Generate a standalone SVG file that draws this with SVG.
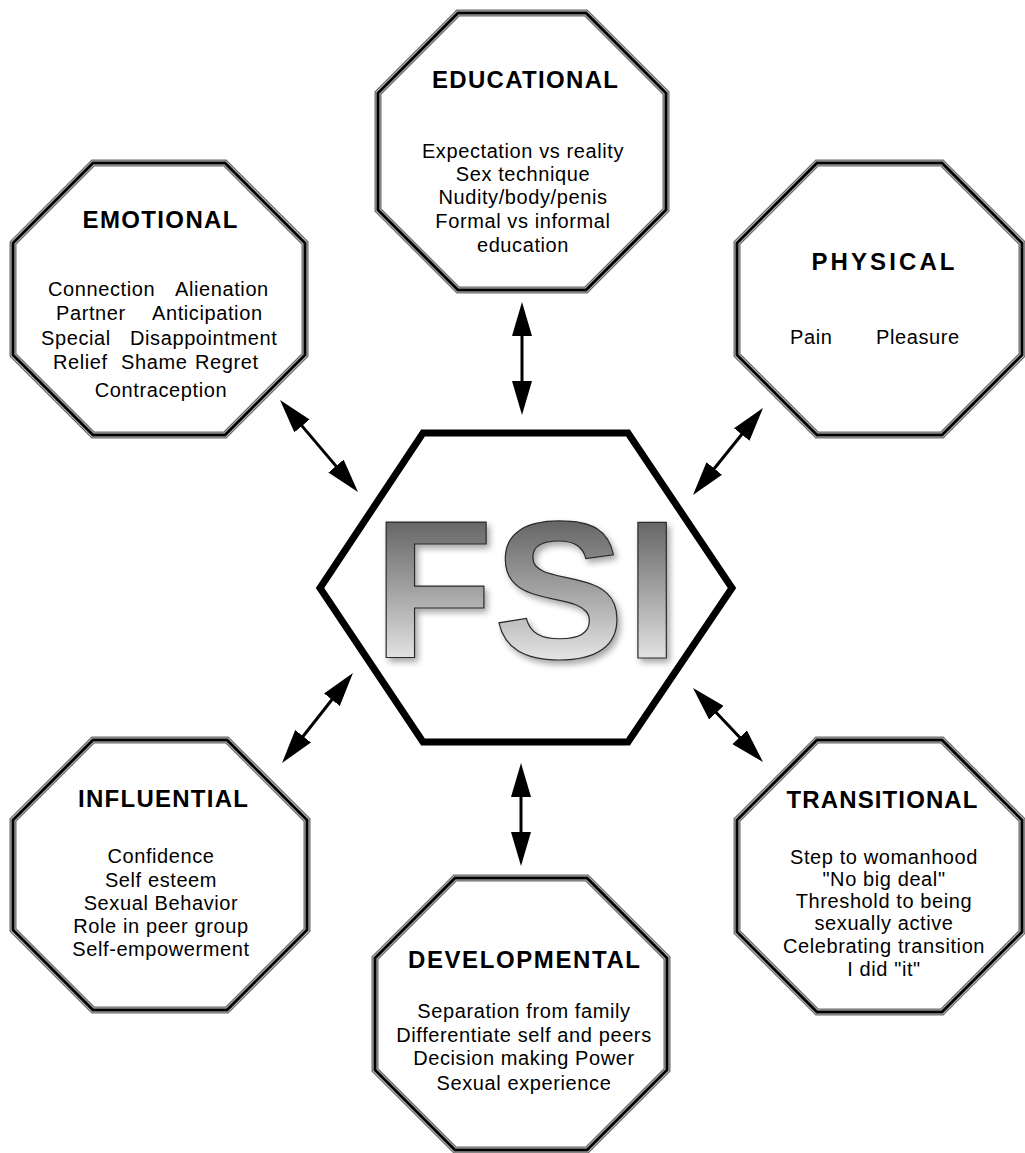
<svg xmlns="http://www.w3.org/2000/svg" width="1025" height="1153" viewBox="0 0 1025 1153">
<style>
.f1{fill:#fff;stroke:#6a6a6a;stroke-width:7;stroke-linejoin:miter}
.f2{fill:none;stroke:#d0d0d0;stroke-width:4.5}
.f3{fill:none;stroke:#000;stroke-width:3}
.title{font-family:"Liberation Sans",Arial,sans-serif;font-weight:bold;font-size:24px;fill:#000;text-anchor:middle}
.body{font-family:"Liberation Sans",Arial,sans-serif;font-size:20px;letter-spacing:0.6px;fill:#000;text-anchor:middle}
.bodyS{font-family:"Liberation Sans",Arial,sans-serif;font-size:20px;letter-spacing:0.6px;fill:#000}
.conn{stroke:#000;stroke-width:3;fill:none;marker-start:url(#ah);marker-end:url(#ah)}
</style>
<defs>
<marker id="ah" viewBox="0 0 34 20" refX="26" refY="10" markerWidth="34" markerHeight="20" markerUnits="userSpaceOnUse" orient="auto-start-reverse">
<path d="M0,0 L34,10 L0,20 Z" fill="#000"/>
</marker>
<linearGradient id="fsiGrad" gradientUnits="userSpaceOnUse" x1="0" y1="515" x2="0" y2="660">
<stop offset="0" stop-color="#606060"/>
<stop offset="0.5" stop-color="#a0a0a0"/>
<stop offset="1" stop-color="#e4e4e4"/>
</linearGradient>
<filter id="shadow" x="-10%" y="-10%" width="130%" height="130%">
<feDropShadow dx="3" dy="4" stdDeviation="3" flood-color="#000" flood-opacity="0.35"/>
</filter>
</defs>
<rect width="1025" height="1153" fill="#fff"/>

<g id="connectors">
<line class="conn" x1="285.2" y1="406.1" x2="352.8" y2="485.9"/>
<line class="conn" x1="758" y1="414.2" x2="698" y2="488.8"/>
<line class="conn" x1="348" y1="679.3" x2="287" y2="756.7"/>
<line class="conn" x1="698.5" y1="693.8" x2="757.5" y2="756.2"/>
<line class="conn" x1="522" y1="310" x2="522" y2="407"/>
<line class="conn" x1="521" y1="771" x2="521" y2="858"/>
</g>

<g id="fsi">
<polygon points="423,433 628,433 732,588 628,742 423,742 320,588" fill="#fff" stroke="#000" stroke-width="7" stroke-linejoin="miter"/>
<text x="373" y="658" font-family="Liberation Sans,Arial,sans-serif" font-weight="bold" font-size="197" fill="url(#fsiGrad)" stroke="#2a2a2a" stroke-width="1.2" filter="url(#shadow)">FSI</text>
</g>

<g id="educational">
<polygon class="f1" points="458,13 586,13 666,93 666,210 586,290 458,290 378,210 378,93"/>
<polygon class="f2" points="458,13 586,13 666,93 666,210 586,290 458,290 378,210 378,93"/>
<polygon class="f3" points="458,13 586,13 666,93 666,210 586,290 458,290 378,210 378,93"/>
<text class="title" x="525" y="88" textLength="186" lengthAdjust="spacing">EDUCATIONAL</text>
<text class="body" x="523" y="158">Expectation vs reality</text>
<text class="body" x="523" y="181">Sex technique</text>
<text class="body" x="523" y="204">Nudity/body/penis</text>
<text class="body" x="523" y="228">Formal vs informal</text>
<text class="body" x="523" y="252">education</text>
</g>

<g id="emotional">
<polygon class="f1" points="93,163 225,163 305,243 305,355 225,435 93,435 13,355 13,243"/>
<polygon class="f2" points="93,163 225,163 305,243 305,355 225,435 93,435 13,355 13,243"/>
<polygon class="f3" points="93,163 225,163 305,243 305,355 225,435 93,435 13,355 13,243"/>
<text class="title" x="160" y="228" textLength="155" lengthAdjust="spacing">EMOTIONAL</text>
<text class="bodyS" y="296"><tspan x="48">Connection</tspan><tspan x="175">Alienation</tspan></text>
<text class="bodyS" y="320"><tspan x="56">Partner</tspan><tspan x="152">Anticipation</tspan></text>
<text class="bodyS" y="345"><tspan x="41">Special</tspan><tspan x="130">Disappointment</tspan></text>
<text class="bodyS" y="369"><tspan x="53">Relief</tspan><tspan x="121">Shame</tspan><tspan x="195">Regret</tspan></text>
<text class="body" x="161" y="397">Contraception</text>
</g>

<g id="physical">
<polygon class="f1" points="817,163 942,163 1022,243 1022,355 942,435 817,435 737,355 737,243"/>
<polygon class="f2" points="817,163 942,163 1022,243 1022,355 942,435 817,435 737,355 737,243"/>
<polygon class="f3" points="817,163 942,163 1022,243 1022,355 942,435 817,435 737,355 737,243"/>
<text class="title" x="883" y="270" textLength="143" lengthAdjust="spacing">PHYSICAL</text>
<text class="bodyS" y="344"><tspan x="790">Pain</tspan><tspan x="876">Pleasure</tspan></text>
</g>

<g id="influential">
<polygon class="f1" points="93,740 227,740 307,820 307,930 227,1010 93,1010 13,930 13,820"/>
<polygon class="f2" points="93,740 227,740 307,820 307,930 227,1010 93,1010 13,930 13,820"/>
<polygon class="f3" points="93,740 227,740 307,820 307,930 227,1010 93,1010 13,930 13,820"/>
<text class="title" x="163" y="807" textLength="170" lengthAdjust="spacing">INFLUENTIAL</text>
<text class="body" x="161" y="863">Confidence</text>
<text class="body" x="161" y="887">Self esteem</text>
<text class="body" x="161" y="910">Sexual Behavior</text>
<text class="body" x="161" y="933">Role in peer group</text>
<text class="body" x="161" y="956">Self-empowerment</text>
</g>

<g id="transitional">
<polygon class="f1" points="817,740 942,740 1022,820 1022,932 942,1012 817,1012 737,932 737,820"/>
<polygon class="f2" points="817,740 942,740 1022,820 1022,932 942,1012 817,1012 737,932 737,820"/>
<polygon class="f3" points="817,740 942,740 1022,820 1022,932 942,1012 817,1012 737,932 737,820"/>
<text class="title" x="882" y="808" textLength="191" lengthAdjust="spacing">TRANSITIONAL</text>
<text class="body" x="884" y="864">Step to womanhood</text>
<text class="body" x="884" y="886">"No big deal"</text>
<text class="body" x="884" y="908">Threshold to being</text>
<text class="body" x="884" y="930">sexually active</text>
<text class="body" x="884" y="953">Celebrating transition</text>
<text class="body" x="884" y="976">I did "it"</text>
</g>

<g id="developmental">
<polygon class="f1" points="455,878 587,878 667,958 667,1070 587,1150 455,1150 375,1070 375,958"/>
<polygon class="f2" points="455,878 587,878 667,958 667,1070 587,1150 455,1150 375,1070 375,958"/>
<polygon class="f3" points="455,878 587,878 667,958 667,1070 587,1150 455,1150 375,1070 375,958"/>
<text class="title" x="524" y="968" textLength="232" lengthAdjust="spacing">DEVELOPMENTAL</text>
<text class="body" x="524" y="1018">Separation from family</text>
<text class="body" x="524" y="1042">Differentiate self and peers</text>
<text class="body" x="524" y="1065">Decision making Power</text>
<text class="body" x="524" y="1090">Sexual experience</text>
</g>
</svg>
